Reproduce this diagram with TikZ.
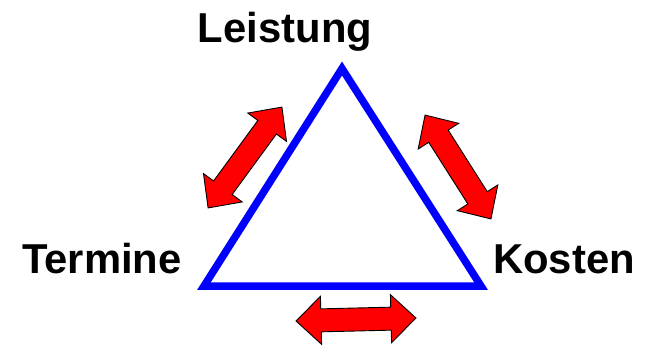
\documentclass[tikz,border=0pt]{standalone}
\usepackage{fontspec}
\setmainfont{Liberation Sans}
\begin{document}
\begin{tikzpicture}[x=1pt,y=-1pt,
  lbl/.style={font=\fontsize{41.8}{48}\selectfont\bfseries, anchor=base, inner sep=0pt},
  tri/.style={draw=blue, line width=7.5pt, line join=miter},
  redarrow/.style={draw=black, line width=0.9pt, fill=red, line join=miter}]
\useasboundingbox (0,0) rectangle (652,345);
% triangle vertices
\coordinate (top) at (342,68.5);
\coordinate (bl) at (204,286);
\coordinate (br) at (481,286);
\draw[tri] (top) -- (bl) -- (br) -- cycle;
% labels
\node[lbl] (leistung) at (285,43) {Leistung};
\node[lbl] (termine) at (102,273) {Termine};
\node[lbl] (kosten) at (564,273) {Kosten};
% double block arrow: #1 centre, #2 angle, #3 half length
\newcommand{\dblblock}[3]{%
  \begin{scope}[shift={#1}, rotate=#2]
    \draw[redarrow] (-#3,0) -- (-#3+25,24) -- (-#3+25,11.5) -- (#3-25,11.5)
      -- (#3-25,24) -- (#3,0) -- (#3-25,-24) -- (#3-25,-11.5)
      -- (-#3+25,-11.5) -- (-#3+25,-24) -- cycle;
  \end{scope}}
\dblblock{(245,157.5)}{53.8}{62.5}
\dblblock{(458,167)}{-57.6}{61.5}
\dblblock{(356,319.5)}{1.4}{60}
\end{tikzpicture}
\end{document}
